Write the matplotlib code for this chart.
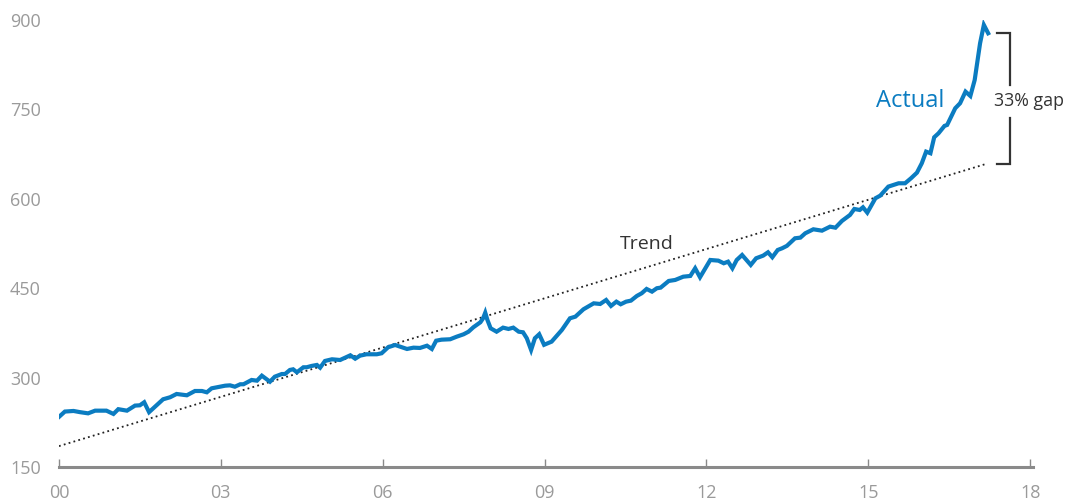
import numpy as np
import matplotlib.pyplot as plt

# ================================================================
# Data
# ================================================================
years = [
    2000.00, 2000.11, 2000.27, 2000.39, 2000.54, 2000.67, 2000.88, 2001.01,
    2001.10, 2001.26, 2001.41, 2001.50, 2001.58, 2001.67, 2001.93, 2002.06,
    2002.18, 2002.37, 2002.52, 2002.65, 2002.74, 2002.83, 2002.98, 2003.08,
    2003.17, 2003.26, 2003.36, 2003.42, 2003.57, 2003.67, 2003.76, 2003.91,
    2004.00, 2004.13, 2004.19, 2004.28, 2004.34, 2004.41, 2004.53, 2004.59,
    2004.68, 2004.78, 2004.84, 2004.93, 2005.06, 2005.21, 2005.40, 2005.49,
    2005.58, 2005.70, 2005.89, 2005.98, 2006.10, 2006.23, 2006.32, 2006.45,
    2006.57, 2006.69, 2006.82, 2006.91, 2006.99, 2007.09, 2007.25, 2007.37,
    2007.50, 2007.59, 2007.68, 2007.81, 2007.86, 2007.90, 2007.94, 2008.00,
    2008.11, 2008.23, 2008.33, 2008.42, 2008.52, 2008.60, 2008.67, 2008.75,
    2008.82, 2008.90, 2008.99, 2009.13, 2009.32, 2009.47, 2009.57, 2009.72,
    2009.91, 2010.03, 2010.14, 2010.23, 2010.33, 2010.41, 2010.51, 2010.60,
    2010.71, 2010.80, 2010.89, 2010.99, 2011.08, 2011.15, 2011.30, 2011.42,
    2011.57, 2011.70, 2011.79, 2011.88, 2012.07, 2012.22, 2012.32, 2012.40,
    2012.48, 2012.56, 2012.66, 2012.82, 2012.92, 2013.05, 2013.14, 2013.22,
    2013.32, 2013.40, 2013.49, 2013.64, 2013.74, 2013.83, 2013.98, 2014.14,
    2014.29, 2014.39, 2014.51, 2014.66, 2014.74, 2014.84, 2014.90, 2014.98,
    2015.13, 2015.22, 2015.37, 2015.56, 2015.68, 2015.79, 2015.90, 2015.99,
    2016.07, 2016.15, 2016.22, 2016.30, 2016.41, 2016.46, 2016.61, 2016.70,
    2016.80, 2016.89, 2016.97, 2017.07, 2017.14, 2017.22,
]
actual = [
    234, 243, 244, 242, 240, 244.5, 244.5, 239,
    247, 244.5, 253, 253.5, 258.6, 242, 263.6, 267,
    272.5, 270.3, 277.5, 277.5, 275.3, 282, 284.7, 286.4,
    287, 284.7, 288.8, 288.8, 296, 294.8, 303.2, 293.1,
    301.5, 306, 306, 312.8, 313.9, 308.9, 317.3, 317.3,
    319.5, 321.2, 316.6, 327.9, 330.7, 329.5, 337.4, 331.7,
    336.8, 339.1, 339.1, 340.8, 350.9, 354.7, 351.9, 348,
    350.2, 349.7, 353.5, 348, 361.9, 363.6, 364.3, 368.6,
    372.7, 377, 384.4, 392.8, 399.5, 408.9, 396.7, 382.7,
    377, 383.8, 381.6, 383.8, 377, 376, 366, 346.3,
    366, 372.7, 355, 360.3, 379.9, 399.5, 402.2, 414.6,
    424.6, 423.5, 430.2, 420.2, 427.4, 423, 427.4, 429.1,
    437, 441.5, 448.7, 444.2, 449.9, 450.9, 462.1, 463.8,
    469.3, 470.5, 483.4, 468.3, 497.3, 496.2, 491.8, 494.5,
    483.4, 497.3, 505.7, 489, 500.2, 504.6, 510.2, 501.9,
    514.1, 516.9, 521, 533.7, 534.8, 542.1, 548.8, 546.5,
    553.2, 551.5, 562.8, 572.9, 582.9, 581.2, 585.7, 576.7,
    600.8, 605.3, 620.4, 626, 626, 634.4, 643.8, 659.6,
    679.1, 676.4, 703.2, 709.9, 722.2, 723.9, 751.9, 760.3,
    779.8, 772.5, 799.2, 860.9, 891.7, 877.7,
]

trend_years = [2000.0, 2017.2]
trend = [185, 659]

x_ticks = [2000, 2003, 2006, 2009, 2012, 2015, 2018]
x_labels = ['00', '03', '06', '09', '12', '15', '18']
y_ticks = [150, 300, 450, 600, 750, 900]

gap_label = '33% gap'

# ================================================================
# Plot
# ================================================================
plt.rcParams['font.family'] = ['Open Sans', 'DejaVu Sans']

blue = '#0b7cc1'
grey = '#9a9a9a'
dark = '#333333'

fig = plt.figure(figsize=(10.66, 5.03), dpi=100)
ax = fig.add_axes([0.0553, 0.0716, 0.9137, 0.8887])

ax.plot(trend_years, trend, color='#222222', linestyle=(0, (1, 1.8)),
        linewidth=1.3)
ax.plot(years, actual, color=blue, linewidth=3.0, solid_joinstyle='miter')

ax.set_xlim(2000, 2018.05)
ax.set_ylim(150, 900)

ax.set_xticks(x_ticks)
ax.set_xticklabels(x_labels)
ax.set_yticks(y_ticks)

for s in ['top', 'right', 'left']:
    ax.spines[s].set_visible(False)
ax.spines['bottom'].set_color('#8a8a8a')
ax.spines['bottom'].set_linewidth(2.2)

ax.tick_params(axis='x', direction='in', length=6, width=1, color='#8a8a8a',
               labelsize=13, labelcolor=grey, pad=12)
ax.tick_params(axis='y', length=0, labelsize=13, labelcolor=grey, pad=13)

# labels on the lines
ax.text(2010.9, 524, 'Trend', color=dark, fontsize=14, ha='center',
        va='center')
ax.text(2015.78, 764, 'Actual', color=blue, fontsize=17, ha='center',
        va='center')

# bracket showing the gap between actual and trend at the end
top = actual[-1]
bottom = trend[-1]
xb = 2017.63
xl = 2017.39
ax.plot([xl, xb, xb], [top, top, 791], color=dark, linewidth=1.6,
        clip_on=False, solid_joinstyle='miter')
ax.plot([xb, xb, xl], [736, bottom, bottom], color=dark, linewidth=1.6,
        clip_on=False, solid_joinstyle='miter')
ax.text(2017.98, 764, gap_label, color=dark, fontsize=12.8, ha='center',
        va='center')

fig.savefig('out.png', dpi=100)
